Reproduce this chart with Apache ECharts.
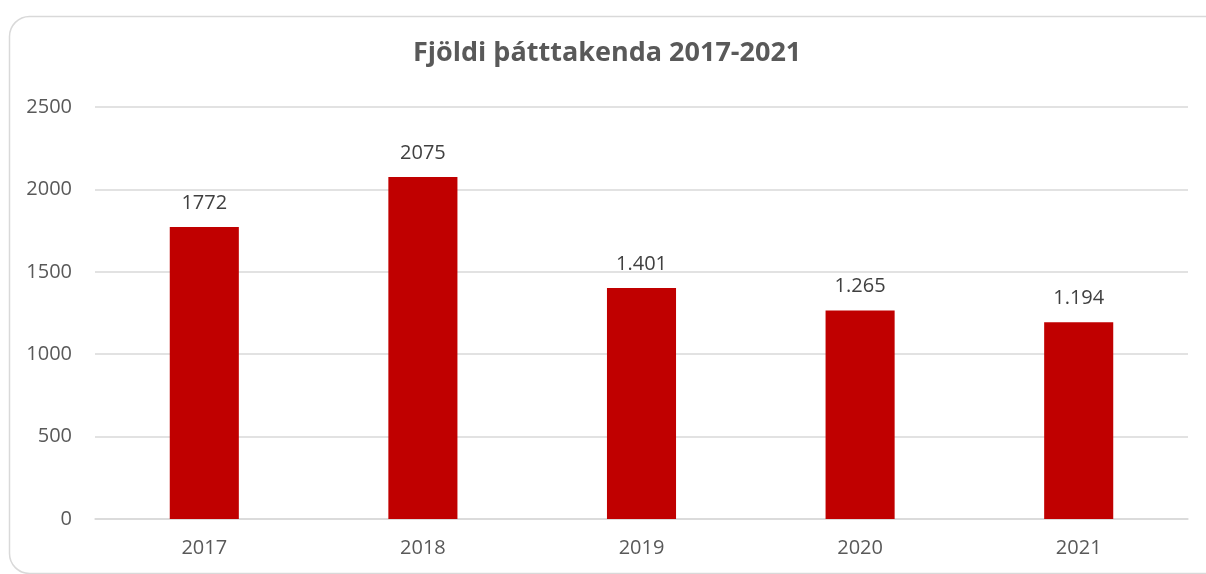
<!DOCTYPE html>
<html>
<head>
<meta charset="utf-8">
<script src="https://cdn.jsdelivr.net/npm/echarts@6/dist/echarts.min.js"></script>
<style>
html, body { margin: 0; padding: 0; background: #fff; }
#chart { width: 1206px; height: 574px; }
</style>
</head>
<body>
<div id="chart"></div>
<script>
const years = ['2017', '2018', '2019', '2020', '2021']
const counts = [1772, 2075, 1401, 1265, 1194]
// labels as printed in the original (mixed formats)
const countLabels = ['1772', '2075', '1.401', '1.265', '1.194']
const yTicks = [0, 500, 1000, 1500, 2000, 2500]

const chart = echarts.init(document.getElementById('chart'))

const option = {
  animation: false,
  textStyle: { fontFamily: '"Open Sans", sans-serif' },
  graphic: [{
    type: 'rect',
    left: 7,
    top: 14,
    shape: { width: 1215, height: 557, r: 20 },
    style: { fill: 'none', stroke: '#d9d9d9', lineWidth: 1.5 },
    z: -1
  }],
  title: {
    text: 'Fjöldi þátttakenda 2017-2021',
    left: 408,
    top: 35,
    textStyle: { fontSize: 27, fontWeight: 'bold', color: '#595959', fontFamily: '"Open Sans", sans-serif' }
  },
  grid: { left: 95, right: 18, top: 107, bottom: 55 },
  xAxis: {
    type: 'category',
    data: years,
    axisTick: { show: false },
    axisLine: { lineStyle: { color: '#d9d9d9', width: 1.5 } },
    axisLabel: { color: '#595959', fontSize: 20, margin: 19 }
  },
  yAxis: {
    type: 'value',
    min: yTicks[0],
    max: yTicks[yTicks.length - 1],
    interval: 500,
    axisLine: { show: false },
    axisTick: { show: false },
    splitLine: { lineStyle: { color: '#d9d9d9', width: 1.5 } },
    axisLabel: { color: '#595959', fontSize: 20, margin: 23, formatter: v => String(v) }
  },
  series: [{
    type: 'bar',
    data: counts,
    barWidth: '31.6%',
    itemStyle: { color: '#c00000' },
    label: {
      show: true,
      position: 'top',
      distance: 14,
      color: '#404040',
      fontSize: 20,
      formatter: p => countLabels[p.dataIndex]
    }
  }]
}

chart.setOption(option)
</script>
</body>
</html>
